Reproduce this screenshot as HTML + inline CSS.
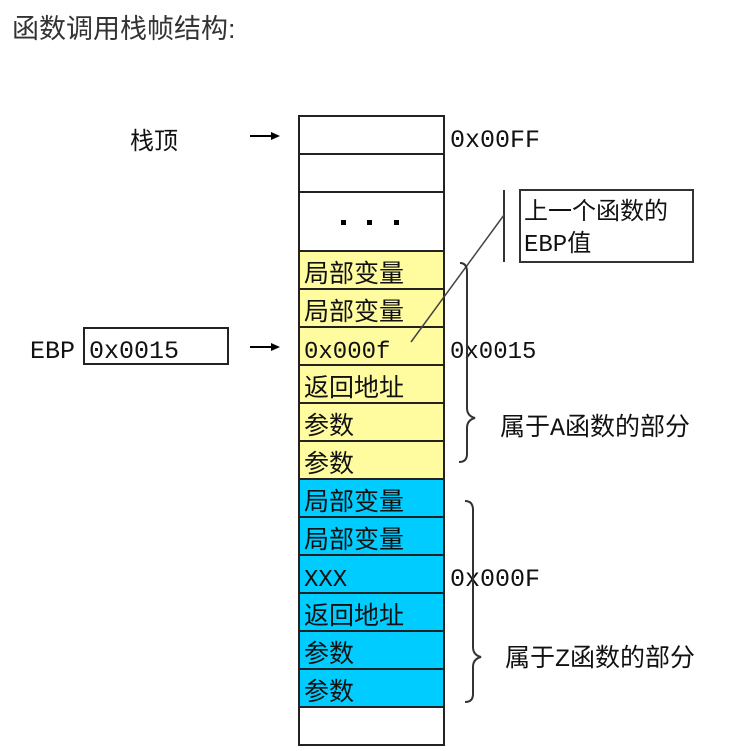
<!DOCTYPE html>
<html><head><meta charset="utf-8"><style>
html,body{margin:0;padding:0;background:#fff;width:734px;height:751px;overflow:hidden}
svg text{font-family:"Liberation Mono","Noto Sans CJK SC",monospace}
</style></head><body>
<svg width="734" height="751" xmlns="http://www.w3.org/2000/svg">
<text x="12" y="38" font-size="27" fill="#333" style="font-family:'Liberation Sans','Noto Sans CJK SC',sans-serif">函数调用栈帧结构:</text>

<g stroke="#222" stroke-width="2">
<rect x="299" y="116" width="145" height="38" fill="#fff"/>
<rect x="299" y="154" width="145" height="38" fill="#fff"/>
<rect x="299" y="192" width="145" height="59" fill="#fff"/>
<rect x="299" y="251" width="145" height="38" fill="#fffca0"/>
<rect x="299" y="289" width="145" height="38" fill="#fffca0"/>
<rect x="299" y="327" width="145" height="38" fill="#fffca0"/>
<rect x="299" y="365" width="145" height="38" fill="#fffca0"/>
<rect x="299" y="403" width="145" height="38" fill="#fffca0"/>
<rect x="299" y="441" width="145" height="38" fill="#fffca0"/>
<rect x="299" y="479" width="145" height="38" fill="#00ccff"/>
<rect x="299" y="517" width="145" height="38" fill="#00ccff"/>
<rect x="299" y="555" width="145" height="38" fill="#00ccff"/>
<rect x="299" y="593" width="145" height="38" fill="#00ccff"/>
<rect x="299" y="631" width="145" height="38" fill="#00ccff"/>
<rect x="299" y="669" width="145" height="38" fill="#00ccff"/>
<rect x="299" y="707" width="145" height="38" fill="#fff"/>
</g>
<g fill="#000">
<rect x="341" y="220" width="5" height="5"/><rect x="367" y="220" width="5" height="5"/><rect x="394" y="220" width="5" height="5"/>
</g>
<g font-size="25" fill="#111">
<text x="304" y="282">局部变量</text>
<text x="304" y="320">局部变量</text>
<text x="304" y="358" font-size="24">0x000f</text>
<text x="304" y="396">返回地址</text>
<text x="304" y="434">参数</text>
<text x="304" y="472">参数</text>
<text x="304" y="510">局部变量</text>
<text x="304" y="548">局部变量</text>
<text x="304" y="586" font-size="24">XXX</text>
<text x="304" y="624">返回地址</text>
<text x="304" y="662">参数</text>
<text x="304" y="700">参数</text>
</g>

<text x="450" y="147" font-size="25" fill="#111">0x00FF</text>
<text x="450" y="358" font-size="24" fill="#111">0x0015</text>
<text x="450" y="586" font-size="25" fill="#111">0x000F</text>
<text x="130" y="149" font-size="24" fill="#111">栈顶</text>
<text x="30" y="358" font-size="25" fill="#111">EBP</text>
<rect x="84" y="328" width="144" height="36" fill="#fff" stroke="#222" stroke-width="2"/>
<text x="89" y="358" font-size="25" fill="#111">0x0015</text>

<g stroke="#000" stroke-width="2">
<line x1="250" y1="136" x2="272" y2="136"/>
<line x1="250" y1="347" x2="272" y2="347"/>
</g>
<polygon points="280,136 271,132 271,140" fill="#000"/>
<polygon points="280,347 271,343 271,351" fill="#000"/>

<line x1="504" y1="190" x2="504" y2="262" stroke="#333" stroke-width="2"/>
<line x1="504" y1="215" x2="411" y2="342" stroke="#444" stroke-width="1.5"/>
<rect x="520" y="190" width="173" height="72" fill="#fff" stroke="#333" stroke-width="2"/>
<text x="524" y="219" font-size="24" fill="#111">上一个函数的</text>
<text x="524" y="251" font-size="24" fill="#111">EBP值</text>

<g fill="none" stroke="#333" stroke-width="2">
<path d="M460,263 Q467,263 467,272 L467,408 Q467,416 475,418 Q467,420 467,428 L467,454 Q467,462 459,462"/>
<path d="M465,501 Q473,501 473,510 L473,647 Q473,655 481,657 Q473,659 473,667 L473,694 Q473,702 465,702"/>
</g>
<text x="500" y="435" font-size="25" fill="#111">属于A函数的部分</text>
<text x="505" y="666" font-size="25" fill="#111">属于Z函数的部分</text>
</svg>
</body></html>
